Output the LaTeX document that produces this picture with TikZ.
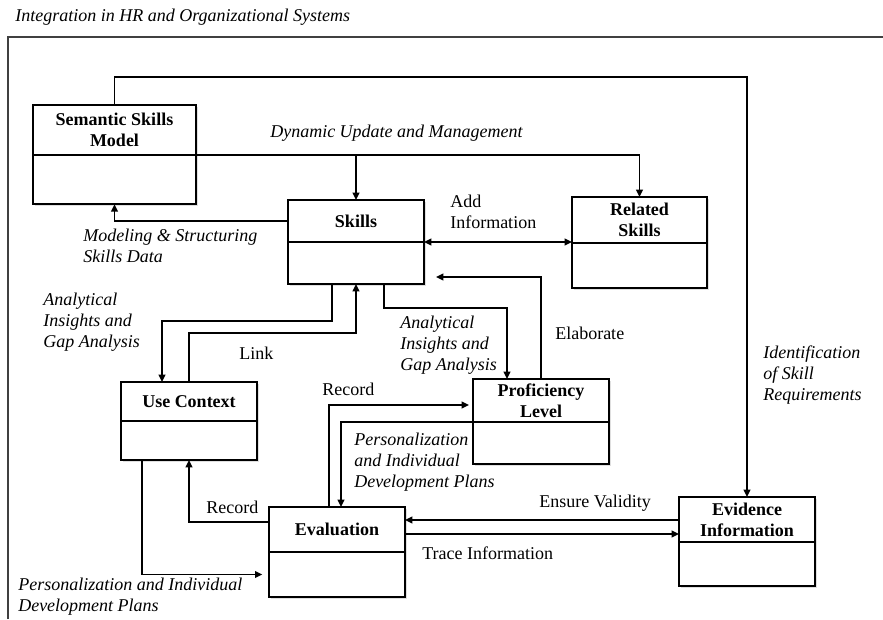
\documentclass[tikz,border=0pt]{standalone}
\usepackage{fontspec}
\setmainfont{Liberation Serif}
\usetikzlibrary{arrows.meta,positioning,calc,shadows}

\begin{document}
\begin{tikzpicture}[x=0.75pt, y=-0.75pt,
  every node/.style={font=\fontsize{13.5}{15.75}\selectfont},
  headbox/.style={draw, line width=1.4pt, fill=white, outer sep=0pt, inner sep=1pt, align=center,
    minimum width=102pt, minimum height=32pt, font=\fontsize{13.5}{15.75}\selectfont\bfseries,
    drop shadow={shadow xshift=1.5pt, shadow yshift=-1.5pt, opacity=0.25}},
  bodybox/.style={headbox, below=0pt of #1},
  lbl/.style={align=left, inner sep=0pt, anchor=west},
  ilbl/.style={lbl, font=\fontsize{13.5}{15.75}\selectfont\itshape},
  arrow/.style={-{Triangle[length=5.5pt,width=5pt]}, line width=1.3pt},
  biarrow/.style={arrow, {Triangle[length=5.5pt,width=5pt]}-{Triangle[length=5.5pt,width=5pt]}}
]
  \useasboundingbox (0,0) rectangle (883,619);
  \draw[line width=1.2pt, black!75] (8,619) -- (8,37) -- (883,37);
  \node[ilbl] (title) at (15,17) {Integration in HR and Organizational Systems};

  % boxes
  \node[headbox, minimum width=122pt, minimum height=37.5pt] (sem) at (114.5,130) {Semantic Skills\\Model};
  \node[bodybox=sem, minimum width=122pt, minimum height=37pt] (sem-b) {};
  \node[headbox, minimum height=31.5pt] (skills) at (356,221) {Skills};
  \node[bodybox=skills, minimum height=31.5pt] (skills-b) {};
  \node[headbox, minimum width=101.25pt, minimum height=34.5pt] (related) at (639.5,220) {Related\\Skills};
  \node[bodybox=related, minimum width=101.25pt, minimum height=33.75pt] (related-b) {};
  \node[headbox, minimum height=29.25pt] (use) at (189,401.5) {Use Context};
  \node[bodybox=use, minimum height=29.25pt] (use-b) {};
  \node[headbox, minimum height=32.25pt] (prof) at (541,400.5) {Proficiency\\Level};
  \node[bodybox=prof, minimum height=31.5pt] (prof-b) {};
  \node[headbox, minimum height=33.75pt] (eval) at (337,529.5) {Evaluation};
  \node[bodybox=eval, minimum height=33.75pt] (eval-b) {};
  \node[headbox, minimum height=33.75pt] (evid) at (747,519.5) {Evidence\\Information};
  \node[bodybox=evid, minimum height=33pt] (evid-b) {};

  % connectors
  \draw[arrow] (sem.north) -- ++(0,-28) -| (evid.north);
  \draw[arrow] (sem.south east) -| (related.north);
  \draw[arrow] (sem.south east -| skills.north) -- (skills.north);
  \draw[arrow] (skills.west) -| (sem-b.south);
  \draw[biarrow] (skills.south east) -- (skills.south east -| related.west);
  \coordinate (elab) at (436,277);
  \draw[arrow] (prof.north) |- (elab);
  \draw[arrow] ($(skills-b.south)+(-24,0)$) -- ++(0,37) -| ($(use.north)+(-27,0)$);
  \draw[arrow] (use.north) -- ++(0,-49) -| (skills-b.south);
  \draw[arrow] ($(skills-b.south)+(28,0)$) -- ++(0,24) -| ($(prof.north)+(-34,0)$);
  \draw[arrow, shorten >=3pt] ($(eval.north)+(-8,0)$) |- ($(prof.west)+(0,4.5)$);
  \draw[arrow] (prof.south west) -| ($(eval.north)+(4,0)$);
  \draw[arrow] ($(evid.west)+(0,0.5)$) -- ($(eval.east)+(0,-9.5)$);
  \draw[arrow] ($(eval.east)+(0,4.5)$) -- ($(evid.west)+(0,14.5)$);
  \draw[arrow] ($(eval.west)+(0,-7.5)$) -| (use-b.south);
  \draw[arrow, shorten >=5pt] ($(use-b.south)+(-47,0)$) |- (eval-b.west);

  % labels
  \node[ilbl] (dyn) at (270,133) {Dynamic Update and Management};
  \node[ilbl] (model) at (83,245.5) {Modeling \& Structuring\\Skills Data};
  \node[lbl] (add) at (450,211.5) {Add\\Information};
  \node[ilbl] (gap1) at (43,322) {Analytical\\Insights and\\Gap Analysis};
  \node[lbl] (link) at (239,353) {Link};
  \node[ilbl] (gap2) at (400,345) {Analytical\\Insights and\\Gap Analysis};
  \node[lbl] (elabtxt) at (555,333) {Elaborate};
  \node[ilbl] (ident) at (763,375) {Identification\\of Skill\\Requirements};
  \node[lbl] (rec1) at (322,389) {Record};
  \node[ilbl] (pers1) at (354,462) {Personalization\\and Individual\\Development Plans};
  \node[lbl] (valid) at (539,503) {Ensure Validity};
  \node[lbl] (trace) at (422,553) {Trace Information};
  \node[lbl] (rec2) at (206,507) {Record};
  \node[ilbl] (pers2) at (18,596.5) {Personalization and Individual\\Development Plans};
\end{tikzpicture}
\end{document}
